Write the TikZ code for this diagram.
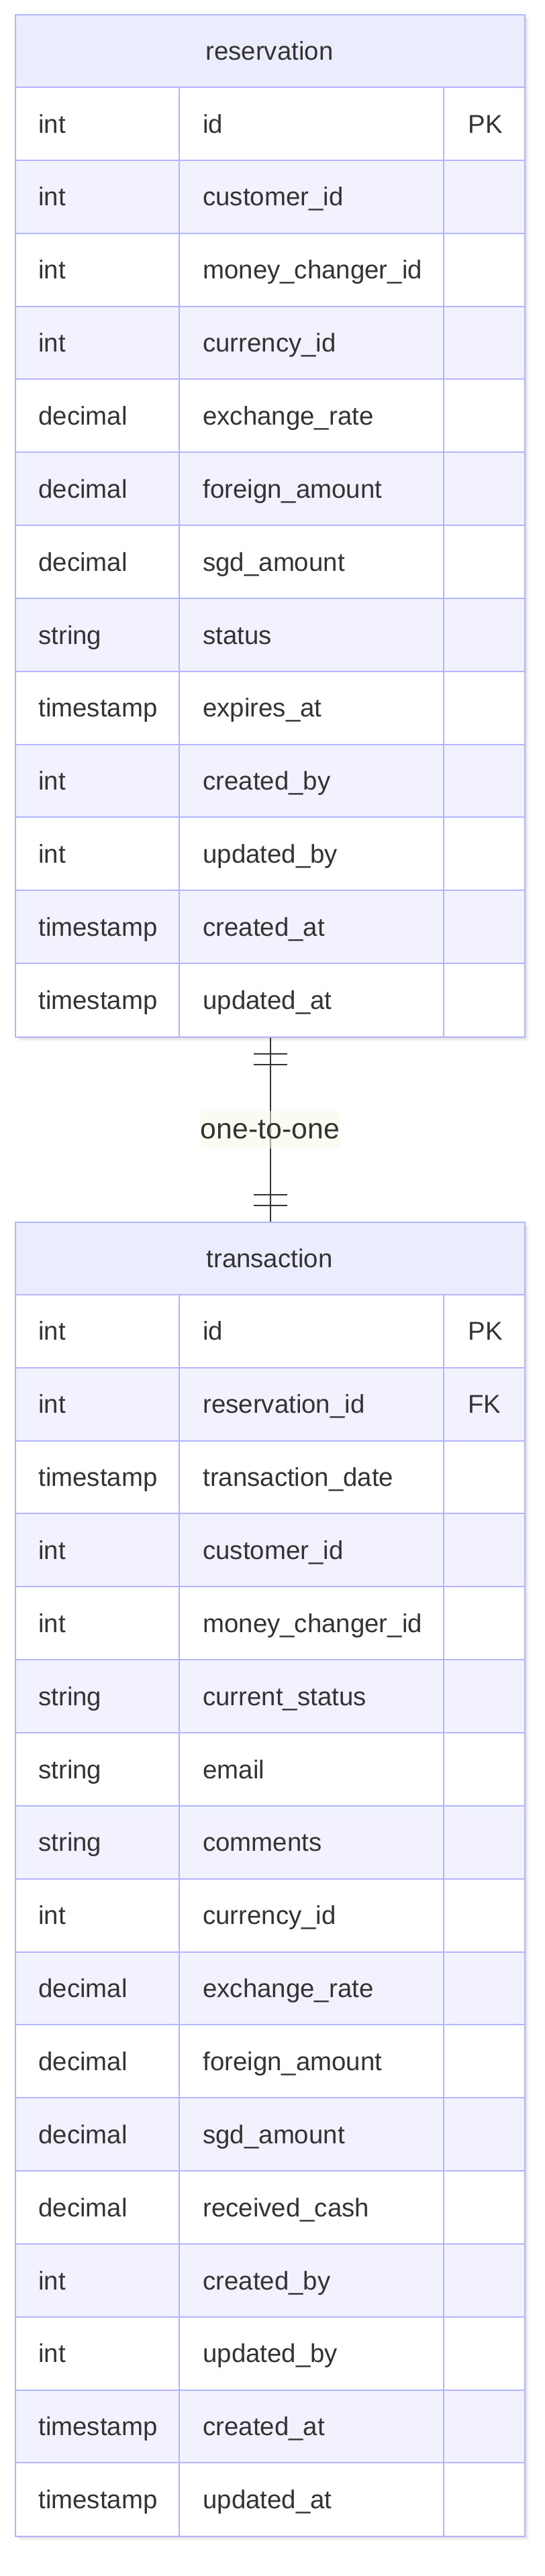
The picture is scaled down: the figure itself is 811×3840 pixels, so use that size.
\documentclass[tikz,border=0pt]{standalone}
\usepackage{fontspec}
\setmainfont{Liberation Sans}
\usetikzlibrary{calc}
\definecolor{bord}{RGB}{180,180,255}
\definecolor{hdrfill}{RGB}{236,236,255}
\definecolor{evenfill}{RGB}{242,242,255}
\definecolor{txtcol}{RGB}{51,51,51}
\definecolor{lblfill}{RGB}{246,250,233}
\definecolor{conncol}{RGB}{51,51,51}
\newcommand\entfont{\fontsize{19.2pt}{23pt}\selectfont}
\newcommand\lblfont{\fontsize{21.4pt}{25pt}\selectfont}
\tikzset{
  gridline/.style={draw=bord, line width=1pt},
  celltext/.style={anchor=base west, inner sep=0pt, text=txtcol, font=\entfont},
  titletext/.style={anchor=base, inner sep=0pt, text=txtcol, font=\entfont},
  entbox/.style={draw=bord, line width=1pt, inner sep=0pt, anchor=north west, minimum width=379.5pt},
  conn/.style={draw=conncol, line width=1pt},
  lbl/.style={fill=lblfill, fill opacity=0.55, text opacity=1, text=txtcol, font=\lblfont, minimum width=92.5pt, minimum height=28pt, inner sep=0pt},
}
% #1 name, #2 title, #3 top (px), #4 number of rows, #5 rows
\newcommand\DrawEntity[5]{%
  \pgfmathsetmacro\Tp{#3}%
  \pgfmathsetmacro\Bt{#3+(#4+1)*108.85}%
  \pgfmathsetmacro\Ht{(#4+1)*108.85*0.5}%
  \foreach \s/\o in {7/0.035,5/0.045,3/0.06}{\fill[black,opacity=\o] (22+\s,\Tp+\s) rectangle (781+\s,\Bt+\s);}
  \fill[hdrfill] (22,\Tp) rectangle (781,\Tp+108.85);
  \node[titletext] (#1-title) at (401.5,\Tp+54.4+13.7) {#2};
  \foreach[count=\i] \ty/\nm/\ky in {#5}{%
    \pgfmathsetmacro\rt{\Tp+\i*108.85}%
    \pgfmathtruncatemacro\ev{mod(\i,2)}%
    \ifnum\ev=0 \fill[evenfill] (22,\rt) rectangle (781,\rt+108.85);\else\fill[white] (22,\rt) rectangle (781,\rt+108.85);\fi
    \draw[gridline] (22,\rt) -- (781,\rt);
    \node[celltext] (#1-\i-type) at (57,\rt+54.4+13.7) {\ty};
    \node[celltext] (#1-\i-name) at (302,\rt+54.4+13.7) {\nm};
    \node[celltext] (#1-\i-key) at (697,\rt+54.4+13.7) {\ky};
  }
  \draw[gridline] (267,\Tp+108.85) -- (267,\Bt);
  \draw[gridline] (661,\Tp+108.85) -- (661,\Bt);
  \node[entbox, minimum height=\Ht pt] (#1) at (22,\Tp) {};
}
\begin{document}
\begin{tikzpicture}[x=0.5pt,y=-0.5pt]
\useasboundingbox[fill=white] (0,0) rectangle (811,3840);
\DrawEntity{reservation}{reservation}{21.1}{13}{%
int/id/PK,
int/customer\_id/{},
int/money\_changer\_id/{},
int/currency\_id/{},
decimal/exchange\_rate/{},
decimal/foreign\_amount/{},
decimal/sgd\_amount/{},
string/status/{},
timestamp/expires\_at/{},
int/created\_by/{},
int/updated\_by/{},
timestamp/created\_at/{},
timestamp/updated\_at/{}}
\DrawEntity{transaction}{transaction}{1821}{17}{%
int/id/PK,
int/reservation\_id/FK,
timestamp/transaction\_date/{},
int/customer\_id/{},
int/money\_changer\_id/{},
string/current\_status/{},
string/email/{},
string/comments/{},
int/currency\_id/{},
decimal/exchange\_rate/{},
decimal/foreign\_amount/{},
decimal/sgd\_amount/{},
decimal/received\_cash/{},
int/created\_by/{},
int/updated\_by/{},
timestamp/created\_at/{},
timestamp/updated\_at/{}}
\draw[conn] (reservation.south) -- (transaction.north);
\draw[conn] ($(reservation.south)+(-25,24)$) -- ++(50,0);
\draw[conn] ($(reservation.south)+(-25,40)$) -- ++(50,0);
\draw[conn] ($(transaction.north)+(-25,-24)$) -- ++(50,0);
\draw[conn] ($(transaction.north)+(-25,-40)$) -- ++(50,0);
\path (reservation.south) -- node[lbl] (rel) {one-to-one} (transaction.north);
\end{tikzpicture}
\end{document}
